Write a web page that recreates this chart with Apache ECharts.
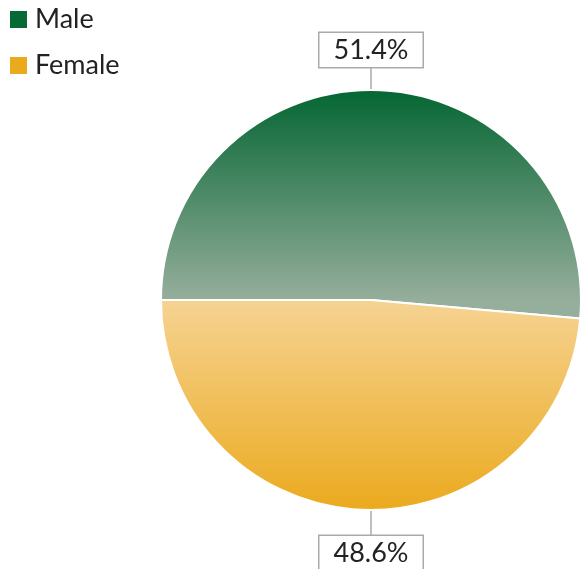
<!DOCTYPE html>
<html>
<head>
<meta charset="utf-8">
<script src="https://cdn.jsdelivr.net/npm/echarts@6/dist/echarts.min.js"></script>
<style>
  html, body { margin: 0; padding: 0; background: #fff; }
  #chart { width: 581px; height: 569px; }
</style>
</head>
<body>
<div id="chart"></div>
<script>
const categories = ["Male", "Female"];
const shares = [51.4, 48.6];
const colorTop = ["#056633", "#f6d393"];
const colorBottom = ["#96ae9c", "#ebaa1e"];

const chart = echarts.init(document.getElementById("chart"));

// label boxes sit straight above / below the pie
const cx = 371, cy = 300, r = 210;

const data = categories.map((name, i) => ({
  name: name,
  value: shares[i],
  itemStyle: {
    color: {
      type: "linear",
      global: true,
      x: 0, y: i === 0 ? cy - r : cy,
      x2: 0, y2: i === 0 ? cy : cy + r,
      colorStops: [
        { offset: 0, color: colorTop[i] },
        { offset: 1, color: colorBottom[i] }
      ]
    }
  }
}));

chart.setOption({
  animation: false,
  legend: {
    orient: "vertical",
    left: 8,
    top: 6,
    padding: 0,
    itemWidth: 19,
    itemHeight: 19,
    itemGap: 19,
    icon: "rect",
    textStyle: { fontFamily: "Lato", fontSize: 27, color: "#222", padding: [0, 0, 0, 2] },
    data: categories.map((c, i) => ({
      name: c,
      itemStyle: { color: i === 0 ? "#076a36" : "#ebaa1e" }
    }))
  },
  series: [{
    type: "pie",
    center: [cx, cy],
    radius: r,
    startAngle: 180,
    clockwise: true,
    itemStyle: { borderColor: "#fff", borderWidth: 2 },
    label: {
      show: true,
      position: "outside",
      formatter: p => p.value.toFixed(1) + "%",
      fontFamily: "Lato",
      fontSize: 27,
      color: "#222",
      backgroundColor: "#fff",
      borderColor: "#aaa",
      borderWidth: 1.5,
      padding: [4, 14, 3, 14]
    },
    labelLine: {
      show: true,
      lineStyle: { color: "#aaa", width: 1.5 }
    },
    labelLayout: params => {
      const top = params.dataIndex === 0;
      return {
        x: cx,
        y: top ? 50 : 553,
        align: "center",
        verticalAlign: "middle",
        labelLinePoints: top
          ? [[cx, cy - r], [cx, 68], [cx, 68]]
          : [[cx, cy + r], [cx, 535], [cx, 535]]
      };
    },
    data: data
  }]
});
</script>
</body>
</html>
